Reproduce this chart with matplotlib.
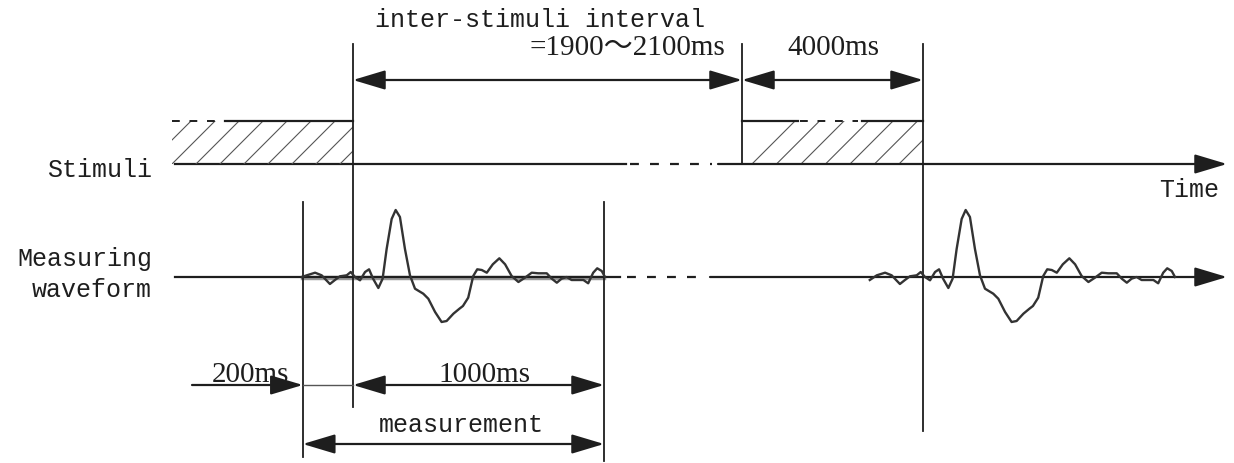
import matplotlib.pyplot as plt
from matplotlib.patches import Rectangle

# waveform : time after stimulus onset (ms) / amplitude (px above baseline)
wave_t = [-204, -184, -151, -125, -92, -72, -52, -25, -9, 8, 28, 48, 64, 80,
          101, 118, 134, 154, 170, 187, 207, 227, 247, 280, 300, 327, 353,
          373, 400, 424, 438, 459, 479, 495, 513, 533, 557, 583, 606, 632,
          659, 685, 712, 738, 772, 792, 812, 831, 851, 871, 898, 918, 937,
          957, 973, 991, 1004]
wave_a = [0, 1.7, 4.3, 1.7, -7, -3, 0.7, 1.7, 5, 0, -3.3, 5, 7.7, -1.7,
          -11, -1.7, 28, 58, 67, 60, 28, 1.7, -11.7, -16.7, -21.7, -35, -45,
          -44, -36.7, -31.7, -29, -20.7, 1, 7.7, 7, 4.3, 12.7, 18.7, 12.7, 1,
          -5, -0.7, 4.3, 3.7, 3.7, -1.7, -5.7, -1.7, 0, -3, -3, -3, -6.3,
          4.3, 8.7, 6, 0]

# timeline (x in px)
stim1_end = 353      # end of first stimulus
stim2_start = 742
stim2_end = 923
ms_px = 0.251        # 1000ms = 251px

INK = '#1e1e1e'
MONO = 'Liberation Mono'
SERIF = 'Liberation Serif'

fig = plt.figure(figsize=(12.34, 4.64), dpi=100)
ax = fig.add_axes([0, 0, 1, 1])
ax.set_xlim(0, 1234)
ax.set_ylim(464, 0)
ax.axis('off')

y_stim = 165
y_top = 122
y_wave = 278


def arrow(x0, x1, y, style='<|-|>'):
    ax.annotate('', xy=(x1, y), xytext=(x0, y),
                arrowprops=dict(arrowstyle=style + ',head_length=1.0,head_width=0.3',
                                mutation_scale=20, lw=1.6, color=INK,
                                shrinkA=0, shrinkB=0))


def hatch_block(x0, x1, start, step=24):
    r = Rectangle((x0, y_top), x1 - x0, y_stim - y_top, fill=False, lw=0)
    ax.add_patch(r)
    h = y_stim - y_top
    x = start
    while x - h < x1:
        ln, = ax.plot([x, x + h], [y_stim, y_top], color='#555', lw=0.8)
        ln.set_clip_path(r)
        x += step


# stimuli row
ax.plot([175, 626], [y_stim, y_stim], color=INK, lw=1.6)
ax.plot([630, 712], [y_stim, y_stim], color=INK, lw=1.6, ls=(0, (4, 5)))
arrow(718, 1227, y_stim, '-|>')
hatch_block(172, stim1_end, 148)
ax.plot([172, 225], [y_top, y_top], color=INK, lw=1.4, ls=(0, (4, 5)))
ax.plot([225, stim1_end], [y_top, y_top], color=INK, lw=1.6)
hatch_block(stim2_start, stim2_end, 752, 24.5)
ax.plot([stim2_start, 798], [y_top, y_top], color=INK, lw=1.6)
ax.plot([800, 858], [y_top, y_top], color=INK, lw=1.4, ls=(0, (4, 5)))
ax.plot([862, stim2_end], [y_top, y_top], color=INK, lw=1.6)

# vertical markers
x_meas0 = stim1_end - 200 * ms_px
x_meas1 = stim1_end + 1000 * ms_px
ax.plot([stim1_end, stim1_end], [45, 408], color=INK, lw=1.3)
ax.plot([stim2_start, stim2_start], [45, y_stim], color=INK, lw=1.3)
ax.plot([stim2_end, stim2_end], [45, 432], color=INK, lw=1.3)
ax.plot([x_meas0, x_meas0], [203, 458], color=INK, lw=1.3)
ax.plot([x_meas1, x_meas1], [203, 462], color=INK, lw=1.3)

# waveform row
ax.plot([x_meas0, x_meas1], [y_wave + 1, y_wave + 1], color='#999', lw=3.2, zorder=1)
ax.plot([175, 620], [y_wave, y_wave], color=INK, lw=1.6)
ax.plot([627, 702], [y_wave, y_wave], color=INK, lw=1.6, ls=(0, (4, 5)))
arrow(710, 1227, y_wave, '-|>')
ax.plot([stim1_end + t * ms_px for t in wave_t], [y_wave - a for a in wave_a],
        color='#333', lw=1.7, zorder=3, solid_joinstyle='round')
ax.plot([stim2_end + t * ms_px for t in [-212] + wave_t[1:]],
        [y_wave - a for a in [-3] + wave_a[1:]], color='#333', lw=1.7,
        zorder=3, solid_joinstyle='round')

# dimension arrows
arrow(stim1_end, stim2_start, 81)
arrow(stim2_start, stim2_end, 81)
arrow(192, x_meas0, 386, '-|>')
ax.plot([x_meas0, stim1_end], [386, 386], color='#555', lw=1.0)
arrow(stim1_end, x_meas1, 386)
arrow(x_meas0, x_meas1, 445)

# texts
ax.text(540, 20, 'inter-stimuli interval', ha='center', va='center',
        family=MONO, fontsize=18, color=INK)
ax.text(725, 48, '=1900～2100ms', ha='right', va='center',
        family=[SERIF, 'Noto Sans CJK JP'], fontsize=21, color=INK)
ax.text(833, 48, '4000ms', ha='center', va='center', family=SERIF,
        fontsize=21, color=INK)
ax.text(152, 170, 'Stimuli', ha='right', va='center', family=MONO,
        fontsize=18, color=INK)
ax.text(1189, 190, 'Time', ha='center', va='center', family=MONO,
        fontsize=18, color=INK)
ax.text(152, 259, 'Measuring', ha='right', va='center', family=MONO,
        fontsize=18, color=INK)
ax.text(152, 290, 'waveform', ha='right', va='center', family=MONO,
        fontsize=18, color=INK)
ax.text(250, 375, '200ms', ha='center', va='center', family=SERIF,
        fontsize=21, color=INK)
ax.text(484, 375, '1000ms', ha='center', va='center', family=SERIF,
        fontsize=21, color=INK)
ax.text(461, 425, 'measurement', ha='center', va='center', family=MONO,
        fontsize=18, color=INK)

fig.savefig('out.png', dpi=100)
